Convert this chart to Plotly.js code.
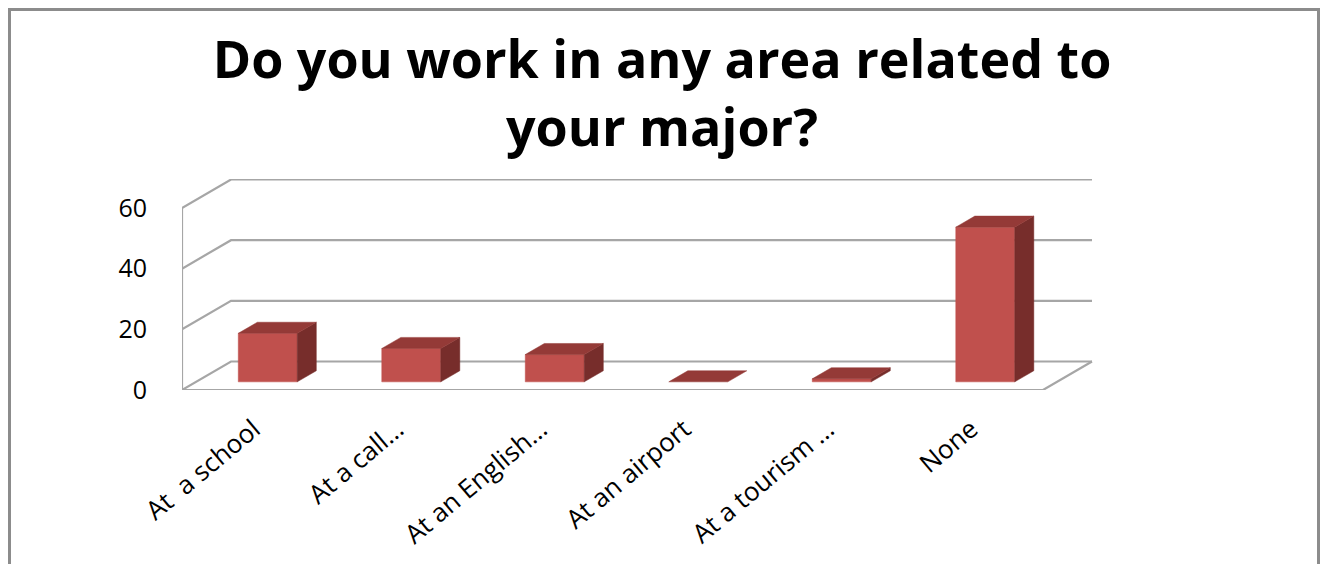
<!DOCTYPE html>
<html>
<head>
<meta charset="utf-8">
<script src="https://cdn.plot.ly/plotly-3.0.1.min.js"></script>
<style>
  html, body { margin: 0; padding: 0; background: #ffffff; }
  #wrap { position: relative; width: 1324px; height: 564px; overflow: hidden; }
  #chart { position: absolute; left: 0; top: 0; width: 1324px; height: 564px; }
  #frame { position: absolute; left: 8px; top: 8px; width: 1306px; height: 600px;
           border: 3px solid #8c8c8c; pointer-events: none; }
</style>
</head>
<body>
<div id="wrap">
  <div id="chart"></div>
  <div id="frame"></div>
</div>
<script>
// ---- data ----
const categories = ['At\u00a0 a school', 'At a call\u2026', 'At an English\u2026', 'At an airport', 'At a tourism \u2026', 'None'];
const values = [16, 11, 9, 0, 1, 51];
const yTicks = [0, 20, 40, 60];
const titleText = 'Do you work in any area related to<br>your major?';

// ---- pseudo-3D geometry (styling constants) ----
const PX_X = 143.5;          // px per category
const PX_Y = 3.033;          // px per value unit
const DX = 49 / PX_X;        // full depth, x units
const DY = 28.5 / PX_Y;      // full depth, y units
const F0 = 0.286, F1 = 0.675; // bar depth extent (fraction of full depth)
const BW = 0.411;            // bar width, category units
const GRID = '#a6a6a6';
const FRONT = '#c0504d', TOP = '#943a37', SIDE = '#772d2b';

const nCat = categories.length;
const xMin = -0.5, xMaxFront = nCat - 0.5;
const plotW = 1324 - 182 - 229, plotH = 564 - 179 - 174;

const traces = [];

// grid: back wall lines + left wall diagonals
const gx = [], gy = [];
yTicks.forEach(v => {
  gx.push(xMin, xMin + DX, xMaxFront + DX, null);
  gy.push(v, v + DY, v + DY, null);
});
// floor front edge, right edge
gx.push(xMin, xMaxFront, xMaxFront + DX, null);
gy.push(0, 0, DY, null);
// front vertical axis line
gx.push(xMin, xMin, null);
gy.push(0, yTicks[yTicks.length - 1], null);
traces.push({type: 'scatter', mode: 'lines', x: gx, y: gy, hoverinfo: 'skip',
             line: {color: GRID, width: 2.2}, showlegend: false});

// bars: front faces, side faces, top faces
const fx = [], fy = [], sx = [], sy = [], tx = [], ty = [];
const ddx = (F1 - F0) * DX, ddy = (F1 - F0) * DY;
values.forEach((v, i) => {
  const cx = i + F0 * DX, b = F0 * DY;
  const l = cx - BW / 2, r = cx + BW / 2, t = b + v;
  if (v > 0) {
    fx.push(l, r, r, l, l, null); fy.push(b, b, t, t, b, null);
    sx.push(r, r + ddx, r + ddx, r, r, null); sy.push(b, b + ddy, t + ddy, t, b, null);
  }
  tx.push(l, r, r + ddx, l + ddx, l, null); ty.push(t, t, t + ddy, t + ddy, t, null);
});
[[fx, fy, FRONT], [sx, sy, SIDE], [tx, ty, TOP]].forEach(([x, y, c]) => {
  traces.push({type: 'scatter', mode: 'lines', x: x, y: y, fill: 'toself', fillcolor: c,
               line: {color: c, width: 0.5}, hoverinfo: 'skip', showlegend: false});
});

const layout = {
  width: 1324, height: 564,
  margin: {l: 182, r: 229, t: 179, b: 174},
  paper_bgcolor: '#ffffff', plot_bgcolor: 'rgba(0,0,0,0)',
  showlegend: false,
  title: {
    text: titleText,
    font: {family: 'Open Sans, sans-serif', size: 52, color: '#000000', weight: 'bold'},
    x: 0.5, xref: 'container', xanchor: 'center',
    y: 1 - 78 / 564, yref: 'container', yanchor: 'top'
  },
  xaxis: {
    range: [xMin, xMin + plotW / PX_X],
    tickvals: categories.map((c, i) => i), ticktext: categories,
    tickangle: -40, showgrid: false, zeroline: false, showline: false, ticks: '',
    ticklabelstandoff: 18,
    tickfont: {family: 'Open Sans, sans-serif', size: 26, color: '#000000'}
  },
  yaxis: {
    range: [0, plotH / PX_Y],
    tickvals: yTicks, showgrid: false, zeroline: false, showline: false, ticks: '',
    ticklabelstandoff: 34,
    tickfont: {family: 'Open Sans, sans-serif', size: 25, color: '#000000'}
  }
};

Plotly.newPlot('chart', traces, layout, {displayModeBar: false, staticPlot: true});
</script>
</body>
</html>
